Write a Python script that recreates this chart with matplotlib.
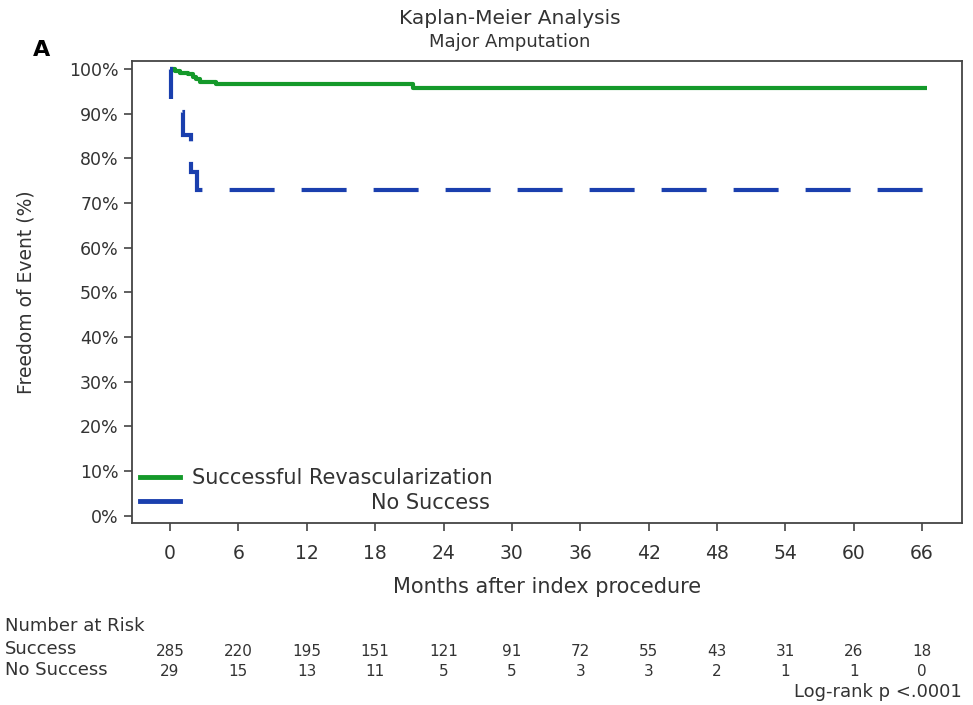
import numpy as np
import matplotlib
matplotlib.use('Agg')
import matplotlib.pyplot as plt
import matplotlib.transforms as mtransforms

plt.rcParams['font.family'] = ['DejaVu Sans']

# Kaplan-Meier curves (months, % event-free)
succ_t = [0, 0.45, 0.9, 1.6, 2.0, 2.3, 2.6, 4.0, 21.3, 66.4]
succ_s = [100, 99.5, 99.2, 99.0, 98.3, 97.7, 97.1, 96.6, 95.7, 95.7]

fail_t = [0, 0.1, 1.1, 1.8, 1.85, 2.35, 66.4]
fail_s = [100, 90.4, 85.2, 83.7, 77.0, 73.0, 73.0]

# number at risk table
risk_months = [0, 6, 12, 18, 24, 30, 36, 42, 48, 54, 60, 66]
risk_success = [285, 220, 195, 151, 121, 91, 72, 55, 43, 31, 26, 18]
risk_fail = [29, 15, 13, 11, 5, 5, 3, 3, 2, 1, 1, 0]

yticks = list(range(0, 101, 10))

green = '#14992a'
blue = '#1a3fae'
txt = '#333333'
narrow = ['Liberation Sans Narrow', 'DejaVu Sans']

# SAS-like dash pattern (pixels along the path), converted to linewidth units
LW = 3
dash_px = [31, 24.4, 37.9, 20.6, 39.5, 27.2] + [45, 27] * 10
dash = tuple(d / (LW * 100 / 72) for d in dash_px)

fig = plt.figure(figsize=(9.73, 7.05), dpi=100)
ax = fig.add_axes([132/973, 1 - 523/705, 830/973, 462/705])

ax.step(succ_t, succ_s, where='post', color=green, lw=LW, solid_capstyle='butt')
ax.step(fail_t, fail_s, where='post', color=blue, lw=LW,
        linestyle=(0, dash), dash_capstyle='butt', dash_joinstyle='miter')

ax.set_xlim(-3.34, 69.5)
ax.set_ylim(-1.6, 101.8)
ax.set_xticks(risk_months)
ax.set_yticks(yticks)
ax.set_yticklabels([f'{v}%' for v in yticks])
ax.tick_params(axis='both', direction='out', length=6, width=1.2, colors='#444444',
               labelcolor=txt, labelsize=12.5)
ax.tick_params(axis='x', pad=9, labelsize=13.5)
for s in ax.spines.values():
    s.set_color('#444444')
    s.set_linewidth(1.3)

ax.set_xlabel('Months after index procedure', fontsize=15, color=txt, labelpad=10)
ax.set_ylabel('Freedom of Event (%)', fontsize=13.5, color=txt)
ax.yaxis.set_label_coords(-0.116, 0.5)

# legend, SAS style (second label right-justified)
ax.plot([0.01, 0.058], [0.1, 0.1], transform=ax.transAxes, color=green, lw=3.5)
ax.plot([0.01, 0.058], [0.047, 0.047], transform=ax.transAxes, color=blue, lw=3.5)
ax.text(0.072, 0.098, 'Successful Revascularization', transform=ax.transAxes,
        fontsize=15, color=txt, va='center', ha='left')
ax.text(0.431, 0.044, 'No Success', transform=ax.transAxes,
        fontsize=15, color=txt, va='center', ha='right')

# titles
fig.text(510/973, 1 - 18/705, 'Kaplan-Meier Analysis', fontsize=14.5, color=txt,
         ha='center', va='center')
fig.text(510/973, 1 - 42/705, 'Major Amputation', fontsize=13, color=txt,
         ha='center', va='center')
fig.text(42/973, 1 - 50/705, 'A', fontsize=16, fontweight='bold', ha='center', va='center')

# number at risk
fig.text(5/973, 1 - 626/705, 'Number at Risk', fontsize=13, color=txt, va='center',
         family=narrow)
fig.text(5/973, 1 - 649/705, 'Success', fontsize=13, color=txt, va='center',
         family=narrow)
fig.text(5/973, 1 - 670/705, 'No Success', fontsize=13, color=txt, va='center',
         family=narrow)
trans = mtransforms.blended_transform_factory(ax.transData, fig.transFigure)
for m, a, b in zip(risk_months, risk_success, risk_fail):
    ax.text(m, 1 - 651/705, str(a), transform=trans, fontsize=11, color=txt,
            ha='center', va='center', clip_on=False, family=narrow)
    ax.text(m, 1 - 672/705, str(b), transform=trans, fontsize=11, color=txt,
            ha='center', va='center', clip_on=False, family=narrow)
fig.text(962/973, 1 - 692/705, 'Log-rank p <.0001', fontsize=13, color=txt,
         ha='right', va='center', family=narrow)

fig.savefig('out.png', dpi=100)
